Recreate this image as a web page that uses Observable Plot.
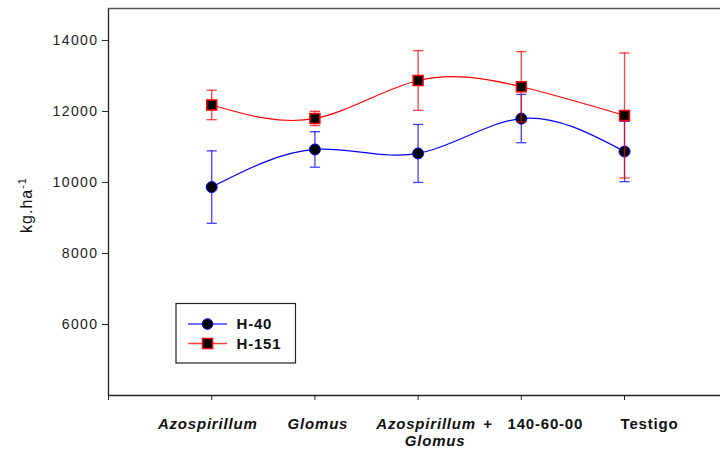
<!DOCTYPE html>
<html>
<head>
<meta charset="utf-8">
<script src="https://cdn.jsdelivr.net/npm/d3@7"></script>
<script src="https://cdn.jsdelivr.net/npm/@observablehq/plot@0.6"></script>
<style>
  html, body { margin: 0; padding: 0; background: #fff; }
  svg { display: block; }
</style>
</head>
<body>
<div id="chart"></div>
<script>
// ---- data ----
const categories = ["Azospirillum", "Glomus", "Azospirillum + Glomus", "140-60-00", "Testigo"];
const h40Mean = [9870, 10930, 10817, 11800, 10873];
const h40Err = [1020, 500, 817, 680, 850];
const h151Mean = [12183, 11803, 12873, 12696, 11887];
const h151Err = [415, 200, 840, 990, 1760];
const yTicks = [6000, 8000, 10000, 12000, 14000];
const seriesNames = ["H-40", "H-151"];

// x-axis label pieces (text, italic) per category, by line
const labelLine1 = [
  [{t: "Azospirillum", it: true}],
  [{t: "Glomus", it: true}],
  [{t: "Azospirillum", it: true}, {t: "+", it: false}],
  [{t: "140-60-00", it: false}],
  [{t: "Testigo", it: false}]
];
const labelLine2 = [[], [], [{t: "Glomus", it: true}], [], []];
// horizontal nudges (px) for label pieces, matching the original layout
const line1Dx = [[-4], [3], [8, 70], [24], [25]];
const line2Dx = [[], [], [17], [], []];

const blue = "#0000ff", red = "#ff0000";

const rows = (means, errs, name) => categories.map((c, i) => ({
  pos: i + 1, cat: c, mean: means[i], lo: means[i] - errs[i], hi: means[i] + errs[i], series: name
}));
const d40 = rows(h40Mean, h40Err, seriesNames[0]);
const d151 = rows(h151Mean, h151Err, seriesNames[1]);

// horizontal cap symbol for error bars
const cap = { draw(ctx, size) { const w = Math.sqrt(size) * 0.9; ctx.moveTo(-w, 0); ctx.lineTo(w, 0); } };

const labelMarks = [];
[[labelLine1, line1Dx, 33], [labelLine2, line2Dx, 50]].forEach(([lines, dxs, dy]) => {
  lines.forEach((parts, i) => parts.forEach((p, j) => {
    labelMarks.push(Plot.text([p], {
      x: () => i + 1, text: "t", frameAnchor: "bottom", dy, dx: dxs[i][j],
      fontSize: 15, fontWeight: "bold", fontStyle: p.it ? "italic" : "normal", fill: "#111"
    }));
  }));
});

function errMarks(data, color) {
  return [
    Plot.ruleX(data, {x: "pos", y1: "lo", y2: "hi", stroke: color, strokeWidth: 1.3, strokeOpacity: 0.75}),
    Plot.dot(data, {x: "pos", y: "lo", symbol: cap, r: 3.2, stroke: color, strokeWidth: 1.3, strokeOpacity: 0.75}),
    Plot.dot(data, {x: "pos", y: "hi", symbol: cap, r: 3.2, stroke: color, strokeWidth: 1.3, strokeOpacity: 0.75})
  ];
}

const svg = Plot.plot({
  width: 720,
  height: 459,
  marginLeft: 108,
  marginRight: 0,
  marginTop: 8,
  marginBottom: 64,
  style: {fontFamily: "'Liberation Sans', Arial, sans-serif", color: "#222", background: "#fff"},
  x: {domain: [0, 5.93], axis: null},
  y: {domain: [4000, 14900], axis: null},
  marks: [
    // frame lines
    Plot.ruleX([0], {stroke: "#222", strokeWidth: 1.3}),
    Plot.ruleY([4000], {stroke: "#222", strokeWidth: 1.3}),
    Plot.ruleY([14900], {stroke: "#555", strokeWidth: 1.5}),
    // axes
    Plot.axisY(yTicks, {tickSize: 6, tickPadding: 4, fontSize: 14, tickFormat: d3.format("d"), fill: "#222", stroke: "#222", label: null}),
    Plot.axisX([0, 1, 2, 3, 4, 5], {tickSize: 5, tickFormat: () => "", stroke: "#222", label: null}),
    // x labels
    ...labelMarks,
    // H-40
    Plot.line(d40, {x: "pos", y: "mean", stroke: blue, strokeWidth: 1.2, curve: "natural"}),
    ...errMarks(d40, blue),
    Plot.dot(d40, {x: "pos", y: "mean", r: 5.5, fill: "#000", stroke: blue, strokeWidth: 1}),
    // H-151
    Plot.line(d151, {x: "pos", y: "mean", stroke: red, strokeWidth: 1.2, curve: "natural"}),
    ...errMarks(d151, red),
    Plot.dot(d151, {x: "pos", y: "mean", r: 5.6, symbol: "square", fill: "#000", stroke: red, strokeWidth: 1.5})
  ]
});

const s = d3.select(svg);
s.selectAll("text").attr("letter-spacing", "0.8px");
s.selectAll("g[aria-label='y-axis tick label'] text").attr("letter-spacing", "1.4px");

// y-axis title
const yl = s.append("text")
  .attr("transform", "translate(32,205) rotate(-90)")
  .attr("text-anchor", "middle")
  .attr("font-size", 16)
  .attr("letter-spacing", "1px")
  .attr("fill", "#111");
yl.append("tspan").text("kg.ha");
yl.append("tspan").attr("dy", "-0.55em").attr("font-size", 11).text("-1");

// legend
const lg = s.append("g").attr("font-size", 15).attr("font-weight", "bold").attr("letter-spacing", "0.8px").attr("text-anchor", "start");
lg.append("rect").attr("x", 176).attr("y", 303.5).attr("width", 119.5).attr("height", 59.5)
  .attr("fill", "#fff").attr("stroke", "#222").attr("stroke-width", 1.2);
const items = [
  {name: seriesNames[0], color: blue, y: 324, shape: "circle"},
  {name: seriesNames[1], color: red, y: 343.5, shape: "square"}
];
items.forEach(it => {
  lg.append("line").attr("x1", 188).attr("x2", 227).attr("y1", it.y).attr("y2", it.y)
    .attr("stroke", it.color).attr("stroke-width", 1.3).attr("stroke-opacity", 0.75);
  if (it.shape === "circle") {
    lg.append("circle").attr("cx", 207.5).attr("cy", it.y).attr("r", 5.3).attr("fill", "#000").attr("stroke", it.color);
  } else {
    lg.append("rect").attr("x", 202.5).attr("y", it.y - 5).attr("width", 10).attr("height", 10)
      .attr("fill", "#000").attr("stroke", it.color).attr("stroke-width", 1.5);
  }
  lg.append("text").attr("x", 236.5).attr("y", it.y + 5.3).attr("fill", "#111").attr("text-anchor", "start").text(it.name);
});

document.getElementById("chart").appendChild(svg);
</script>
</body>
</html>
